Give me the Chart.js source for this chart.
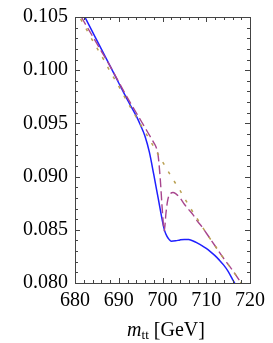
<!DOCTYPE html>
<html>
<head>
<meta charset="utf-8">
<script src="https://cdn.jsdelivr.net/npm/chart.js@4"></script>
<style>
  html, body { margin: 0; padding: 0; background: #fff; }
  #wrap { position: relative; width: 273px; height: 343px; }
  #xtitle {
    position: absolute; left: 75px; width: 182px; top: 319px;
    text-align: center; font: 20px "Liberation Serif", serif; line-height: 20px; color: #000;
  }
  #xtitle sub { font-size: 13px; vertical-align: -3px; line-height: 0; }
</style>
</head>
<body>
<div id="wrap">
  <canvas id="chart" width="273" height="343"></canvas>
  <div id="xtitle"><i>m</i><sub>tt</sub> [GeV]</div>
</div>
<script>
// x ticks and y ticks
const xTicks = [680, 690, 700, 710, 720];
const yTicks = [0.080, 0.085, 0.090, 0.095, 0.100, 0.105];

// dotted (olive) curve
const dottedX = [680, 682, 684, 686, 688, 690, 692, 694, 696, 698, 700, 702, 704, 706, 708, 710, 712, 714, 716, 718, 720];
const dottedY = [0.1057, 0.1043, 0.1028, 0.1014, 0.0999, 0.0985, 0.0970, 0.0956, 0.0942, 0.0928, 0.0914, 0.0900, 0.0887, 0.0873, 0.0860, 0.0847, 0.0835, 0.0823, 0.0812, 0.0800, 0.0789];

// dashed (purple) curve
const dashedX = [680, 682, 684, 686, 688, 690, 692, 694, 696, 697, 698, 698.5, 699, 699.5, 700, 700.4, 700.8, 701.2, 701.8, 702.4, 703, 704, 705, 706, 707, 708, 709, 710, 712, 714, 716, 718, 720];
const dashedY = [0.1061, 0.1046, 0.1032, 0.1018, 0.1004, 0.0989, 0.0974, 0.0960, 0.0946, 0.0939, 0.0932, 0.0928, 0.0920, 0.0897, 0.0866, 0.0849, 0.0866, 0.0878, 0.0884, 0.0885, 0.0884, 0.0880, 0.0874, 0.0869, 0.0864, 0.0858, 0.0853, 0.0847, 0.0835, 0.0823, 0.0812, 0.0800, 0.0789];

// solid (blue) curve
const solidX = [680, 682, 684, 686, 688, 690, 692, 694, 695, 696, 697, 698, 699, 700, 700.5, 701, 701.5, 702, 703, 704, 705, 706, 707, 708, 709, 710, 711, 712, 713, 714, 715, 716, 717, 718];
const solidY = [0.1068, 0.1052, 0.1036, 0.1020, 0.1004, 0.0988, 0.0972, 0.0957, 0.0948, 0.0938, 0.0923, 0.0902, 0.0880, 0.0858, 0.0849, 0.0844, 0.0841, 0.08392, 0.08396, 0.08405, 0.08410, 0.08408, 0.08395, 0.08375, 0.08352, 0.08325, 0.08293, 0.08257, 0.08215, 0.08168, 0.0811, 0.08035, 0.0796, 0.0788];

const pts = (xs, ys) => xs.map((x, i) => ({ x: x, y: ys[i] }));

// Mathematica-style frame with inward ticks on all sides
const framePlugin = {
  id: 'frame',
  afterDatasetsDraw(chart) {
    const { ctx, chartArea: a, scales: { x, y } } = chart;
    ctx.save();
    ctx.strokeStyle = '#444';
    ctx.lineWidth = 1;
    ctx.strokeRect(Math.round(a.left) + 0.5, Math.round(a.top) + 0.5, Math.round(a.right - a.left), Math.round(a.bottom - a.top));
    ctx.beginPath();
    for (let v = 680; v <= 720; v += 2) {
      const px = Math.round(x.getPixelForValue(v)) + 0.5;
      const len = v % 10 === 0 ? 5 : 3;
      ctx.moveTo(px, a.bottom); ctx.lineTo(px, a.bottom - len);
      ctx.moveTo(px, a.top); ctx.lineTo(px, a.top + len);
    }
    for (let k = 80; k <= 105; k++) {
      const py = Math.round(y.getPixelForValue(k / 1000)) + 0.5;
      const len = k % 5 === 0 ? 5 : 3;
      ctx.moveTo(a.left, py); ctx.lineTo(a.left + len, py);
      ctx.moveTo(a.right, py); ctx.lineTo(a.right - len, py);
    }
    ctx.stroke();
    ctx.restore();
  }
};

new Chart(document.getElementById('chart'), {
  type: 'line',
  data: {
    datasets: [
      {
        data: pts(dottedX, dottedY),
        borderColor: '#b9a052',
        borderWidth: 1.5,
        borderDash: [3, 8],
        pointRadius: 0,
        cubicInterpolationMode: 'monotone',
      },
      {
        data: pts(dashedX, dashedY),
        borderColor: '#a8468e',
        borderWidth: 1.4,
        borderDash: [9, 4],
        pointRadius: 0,
        cubicInterpolationMode: 'monotone',
      },
      {
        data: pts(solidX, solidY),
        borderColor: '#1f1fff',
        borderWidth: 1.5,
        pointRadius: 0,
        cubicInterpolationMode: 'monotone',
      },
    ],
  },
  options: {
    responsive: false,
    animation: false,
    events: [],
    layout: { padding: { left: 0, right: 16, top: 11, bottom: 0 } },
    plugins: { legend: { display: false }, tooltip: { enabled: false } },
    scales: {
      x: {
        type: 'linear',
        min: 680,
        max: 720,
        afterFit: (s) => { s.height = 60; },
        afterBuildTicks: (s) => { s.ticks = xTicks.map((v) => ({ value: v })); },
        grid: { display: false, drawTicks: false },
        border: { display: false },
        ticks: {
          padding: 8,
          color: '#000',
          maxRotation: 0,
          font: { family: 'Liberation Serif', size: 20, lineHeight: 1 },
          callback: (v) => String(v),
        },
      },
      y: {
        type: 'linear',
        min: 0.080,
        max: 0.105,
        afterFit: (s) => { s.width = 75; },
        afterBuildTicks: (s) => { s.ticks = yTicks.map((v) => ({ value: v })); },
        grid: { display: false, drawTicks: false },
        border: { display: false },
        ticks: {
          padding: 7,
          color: '#000',
          font: { family: 'Liberation Serif', size: 20, lineHeight: 1 },
          callback: (v) => Number(v).toFixed(3),
        },
      },
    },
  },
  plugins: [framePlugin],
});
</script>
</body>
</html>
